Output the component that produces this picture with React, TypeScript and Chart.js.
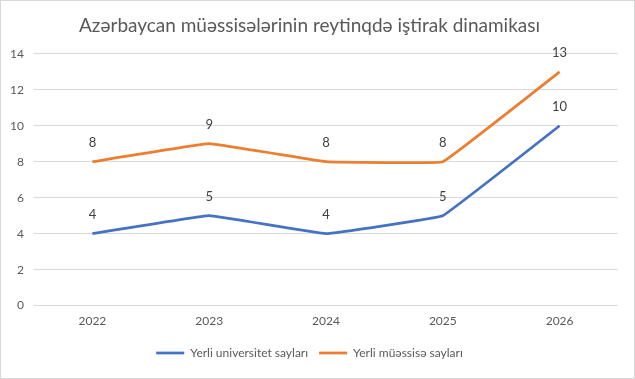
import React, { useEffect, useRef } from "react";
import { Chart, registerables } from "chart.js";

Chart.register(...registerables);

const categories = ["2022", "2023", "2024", "2025", "2026"];
const universitetValues = [4, 5, 4, 5, 10];
const muessiseValues = [8, 9, 8, 8, 13];
const seriesNames = ["Yerli universitet sayları", "Yerli müəssisə sayları"];
const titleText = "Azərbaycan müəssisələrinin reytinqdə iştirak dinamikası";

const FONT = "Lato, 'Open Sans', sans-serif";

const dataLabels = {
  id: "dataLabels",
  afterDatasetsDraw(chart: any) {
    const ctx = chart.ctx;
    ctx.save();
    ctx.font = `13px ${FONT}`;
    ctx.fillStyle = "#404040";
    ctx.textAlign = "center";
    ctx.textBaseline = "middle";
    chart.data.datasets.forEach((ds: any, i: number) => {
      const meta = chart.getDatasetMeta(i);
      meta.data.forEach((pt: any, j: number) => {
        ctx.fillText(String(ds.data[j]), pt.x, pt.y - 19);
      });
    });
    ctx.restore();
  },
};

export default function App() {
  const ref = useRef<HTMLCanvasElement | null>(null);
  useEffect(() => {
    if (!ref.current) return;
    const chart = new Chart(ref.current, {
      type: "line",
      data: {
        labels: categories,
        datasets: [
          {
            label: seriesNames[0],
            data: universitetValues,
            borderColor: "#4472C4",
            backgroundColor: "#4472C4",
            borderWidth: 2.75,
            pointRadius: 0,
            tension: 0.05,
          },
          {
            label: seriesNames[1],
            data: muessiseValues,
            borderColor: "#ED7D31",
            backgroundColor: "#ED7D31",
            borderWidth: 2.75,
            pointRadius: 0,
            tension: 0.05,
          },
        ],
      },
      options: {
        responsive: false,
        animation: false,
        layout: { padding: { left: 0, right: 16, top: 0, bottom: 9 } },
        plugins: {
          title: {
            display: true,
            text: titleText,
            color: "#595959",
            font: { family: FONT, size: 19, weight: "normal" },
            padding: { top: 13, bottom: 17 },
          },
          legend: {
            position: "bottom",
            labels: {
              usePointStyle: true,
              pointStyle: "line",
              pointStyleWidth: 28,
              color: "#595959",
              font: { family: FONT, size: 12 },
              padding: 11,
            },
          },
          tooltip: { enabled: false },
        },
        scales: {
          x: {
            offset: true,
            grid: { display: false, drawTicks: false },
            border: { display: false },
            ticks: { color: "#595959", font: { family: FONT, size: 12 }, padding: 8 },
          },
          y: {
            min: 0,
            max: 14,
            ticks: { stepSize: 2, color: "#595959", font: { family: FONT, size: 12 }, padding: 10 },
            grid: { color: "#d9d9d9", drawTicks: false },
            border: { display: false },
            afterFit: (s: any) => {
              s.width = 33;
            },
          },
        },
      },
      plugins: [dataLabels],
    });
    return () => chart.destroy();
  }, []);
  return (
    <div
      style={{
        position: "absolute",
        left: 0,
        top: 0,
        width: 635,
        height: 379,
        boxSizing: "border-box",
        border: "1px solid #d9d9d9",
        background: "#fff",
      }}
    >
      <canvas ref={ref} width={633} height={377} style={{ display: "block" }} />
    </div>
  );
}
